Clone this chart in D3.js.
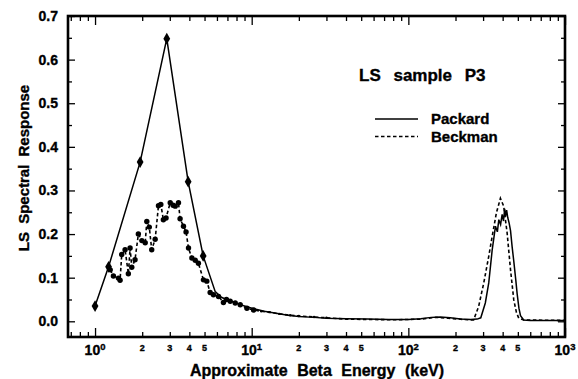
<!DOCTYPE html>
<html>
<head>
<meta charset="utf-8">
<script src="https://cdn.jsdelivr.net/npm/d3@7"></script>
<style>
  body { margin: 0; background: #fff; }
  text { font-family: "Liberation Sans", Arial, sans-serif; font-weight: bold; fill: #000;
         stroke: #000; stroke-width: 0.35px; }
</style>
</head>
<body>
<svg id="chart" width="578" height="379"></svg>
<script>
// Packard: diamonds at low energy, then a plain line
const packardDiamonds = [
  [1.0, 0.035], [1.22, 0.125], [1.94, 0.365], [2.87, 0.648], [3.93, 0.32], [4.9, 0.15]
];
const packardTail = [
  [5.85, 0.068], [6.4, 0.055], [7.2, 0.047], [8.2, 0.04], [9.2, 0.034], [10.3, 0.029],
  [12, 0.023], [14, 0.019], [17, 0.014], [20, 0.011], [25, 0.009], [30, 0.007],
  [40, 0.006], [55, 0.005], [75, 0.004], [100, 0.004], [120, 0.006], [140, 0.009],
  [160, 0.01], [185, 0.008], [215, 0.005], [250, 0.004], [275, 0.005], [290, 0.008],
  [310, 0.042], [326, 0.088], [343, 0.164], [360, 0.218], [370, 0.205], [378, 0.233],
  [388, 0.222], [397, 0.245], [405, 0.23], [412, 0.258], [417, 0.24], [424, 0.255],
  [431, 0.238], [440, 0.225], [449, 0.208], [460, 0.17], [471, 0.138], [485, 0.095],
  [495, 0.063], [508, 0.03], [520, 0.013], [545, 0.003], [600, 0.002], [1000, 0.002]
];

// Beckman: big dots at low energy, small dots in the early tail, then a plain dashed line
const beckmanDots = [
  [1.25, 0.118], [1.31, 0.104], [1.41, 0.099], [1.445, 0.094], [1.48, 0.153], [1.555, 0.164],
  [1.632, 0.109], [1.674, 0.168], [1.716, 0.124], [1.80, 0.141], [1.89, 0.2], [1.99, 0.185],
  [2.09, 0.18], [2.14, 0.229], [2.22, 0.216], [2.30, 0.164], [2.42, 0.188], [2.54, 0.265],
  [2.63, 0.268], [2.73, 0.233], [2.84, 0.237], [3.02, 0.272], [3.15, 0.266], [3.25, 0.264],
  [3.41, 0.272], [3.49, 0.235], [3.67, 0.218], [3.81, 0.205], [3.95, 0.168], [4.15, 0.145],
  [4.36, 0.14], [4.57, 0.133], [4.92, 0.095], [5.17, 0.092], [5.43, 0.066], [5.7, 0.061],
  [6.14, 0.057], [6.6, 0.043], [6.9, 0.05], [7.29, 0.046], [7.85, 0.042], [8.45, 0.038],
  [9.32, 0.03], [10.28, 0.026]
];
const beckmanSmallDots = [
  [11.5, 0.023], [13, 0.021], [15, 0.017], [17.6, 0.014], [20, 0.012], [25, 0.01], [30, 0.008]
];
const beckmanTail = [
  [40, 0.005], [60, 0.004], [85, 0.0035], [120, 0.005], [150, 0.009], [180, 0.007],
  [230, 0.004], [261, 0.003], [281, 0.034], [303, 0.088], [326, 0.149], [343, 0.195],
  [365, 0.249], [387, 0.282], [406, 0.264], [427, 0.203], [449, 0.118], [471, 0.049],
  [490, 0.02], [507, 0.007], [545, 0.003], [1000, 0.002]
];

// axis ticks
const decadeTicks = [1, 10, 100, 1000];
const minorXTicks = [0.7, 0.8, 0.9, 2, 3, 4, 5, 6, 7, 8, 9, 20, 30, 40, 50, 60, 70, 80, 90,
  200, 300, 400, 500, 600, 700, 800, 900];
const minorXLabels = [2, 3, 4, 5, 20, 30, 40, 50, 200, 300, 400, 500];
const yTicks = [0, 0.1, 0.2, 0.3, 0.4, 0.5, 0.6, 0.7];
const yMinorTicks = [0.05, 0.15, 0.25, 0.35, 0.45, 0.55, 0.65];

const W = 578, H = 379;
const margin = { left: 68, right: 13, top: 16, bottom: 42 };

const x = d3.scaleLog().domain([0.672, 1000]).range([margin.left, W - margin.right]);
const y = d3.scaleLinear().domain([-0.036, 0.7]).range([H - margin.bottom, margin.top]);

const svg = d3.select('#chart');

svg.append('defs').append('clipPath').attr('id', 'clip')
  .append('rect')
  .attr('x', margin.left).attr('y', margin.top)
  .attr('width', x.range()[1] - margin.left)
  .attr('height', y.range()[0] - margin.top);

/*
 * Ticks on all four sides, pointing inward
 */
function tickAxis(axisFn, scale, values, size, transform) {
  svg.append('g')
    .attr('transform', transform)
    .call(axisFn(scale).tickValues(values).tickSizeInner(-size).tickSizeOuter(0).tickFormat(''))
    .call(g => g.select('.domain').remove())
    .call(g => g.selectAll('line').attr('stroke', '#000').attr('stroke-width', 1.3));
}

const bottomY = y.range()[0], topY = y.range()[1];
const leftX = x.range()[0], rightX = x.range()[1];

tickAxis(d3.axisBottom, x, decadeTicks, 9, `translate(0,${bottomY})`);
tickAxis(d3.axisBottom, x, minorXTicks, 5, `translate(0,${bottomY})`);
tickAxis(d3.axisTop, x, decadeTicks, 9, `translate(0,${topY})`);
tickAxis(d3.axisTop, x, minorXTicks, 5, `translate(0,${topY})`);
tickAxis(d3.axisLeft, y, yTicks, 7, `translate(${leftX},0)`);
tickAxis(d3.axisLeft, y, yMinorTicks, 4, `translate(${leftX},0)`);
tickAxis(d3.axisRight, y, yTicks, 7, `translate(${rightX},0)`);
tickAxis(d3.axisRight, y, yMinorTicks, 4, `translate(${rightX},0)`);

// frame
svg.append('rect')
  .attr('x', leftX).attr('y', topY)
  .attr('width', rightX - leftX).attr('height', bottomY - topY)
  .attr('fill', 'none').attr('stroke', '#000').attr('stroke-width', 2.6);

// y tick labels
svg.append('g').selectAll('text')
  .data(yTicks)
  .join('text')
  .attr('x', 58)
  .attr('y', d => y(d))
  .attr('dy', '0.36em')
  .attr('text-anchor', 'end')
  .style('font-size', '14px')
  .text(d => d.toFixed(1));

// x decade labels, 10 with superscript exponent
const decadeLabels = svg.append('g').selectAll('text')
  .data(decadeTicks)
  .join('text')
  .attr('x', d => x(d))
  .attr('y', 355)
  .attr('text-anchor', 'middle')
  .style('font-size', '14px');
decadeLabels.append('tspan').text('10');
decadeLabels.append('tspan')
  .attr('dy', -5)
  .style('font-size', '9.5px')
  .text(d => Math.round(Math.log10(d)));

svg.append('g').selectAll('text')
  .data(minorXLabels)
  .join('text')
  .attr('x', d => x(d))
  .attr('y', 351)
  .attr('text-anchor', 'middle')
  .style('font-size', '9px')
  .text(d => String(d)[0]);

// axis titles
svg.append('text')
  .attr('x', 317).attr('y', 376)
  .attr('text-anchor', 'middle')
  .style('font-size', '16px')
  .style('word-spacing', '5px')
  .text('Approximate Beta Energy (keV)');

svg.append('text')
  .attr('transform', 'translate(29,168) rotate(-90)')
  .attr('text-anchor', 'middle')
  .style('font-size', '15px')
  .style('word-spacing', '4px')
  .text('LS Spectral Response');

/*
 * Series
 */
const line = d3.line().x(d => x(d[0])).y(d => y(d[1]));
const plot = svg.append('g').attr('clip-path', 'url(#clip)');

plot.append('path')
  .datum(beckmanDots.concat(beckmanSmallDots, beckmanTail))
  .attr('d', line)
  .attr('fill', 'none').attr('stroke', '#000')
  .attr('stroke-width', 1.6).attr('stroke-dasharray', '3.5,2.5');

plot.append('g').selectAll('circle')
  .data(beckmanDots)
  .join('circle')
  .attr('cx', d => x(d[0])).attr('cy', d => y(d[1]))
  .attr('r', 2.7).attr('fill', '#000');

plot.append('g').selectAll('circle')
  .data(beckmanSmallDots)
  .join('circle')
  .attr('cx', d => x(d[0])).attr('cy', d => y(d[1]))
  .attr('r', 1.2).attr('fill', '#000');

plot.append('path')
  .datum(packardDiamonds.concat(packardTail))
  .attr('d', line)
  .attr('fill', 'none').attr('stroke', '#000')
  .attr('stroke-width', 1.5);

plot.append('g').selectAll('path')
  .data(packardDiamonds)
  .join('path')
  .attr('transform', d => `translate(${x(d[0])},${y(d[1])})`)
  .attr('d', d3.symbol(d3.symbolDiamond, 40))
  .attr('fill', '#000');

/*
 * Legend
 */
const legend = svg.append('g');
legend.append('text')
  .attr('x', 359).attr('y', 81)
  .style('font-size', '17px')
  .style('word-spacing', '8px')
  .text('LS sample P3');

const legendItems = [
  { label: 'Packard', dash: null, y: 119 },
  { label: 'Beckman', dash: '3.5,2.5', y: 136.5 }
];
legendItems.forEach(item => {
  legend.append('line')
    .attr('x1', 375).attr('x2', 418)
    .attr('y1', item.y).attr('y2', item.y)
    .attr('stroke', '#000').attr('stroke-width', 1.5)
    .attr('stroke-dasharray', item.dash);
  legend.append('text')
    .attr('x', 431).attr('y', item.y)
    .attr('dy', '0.36em')
    .style('font-size', '15px')
    .text(item.label);
});
</script>
</body>
</html>
